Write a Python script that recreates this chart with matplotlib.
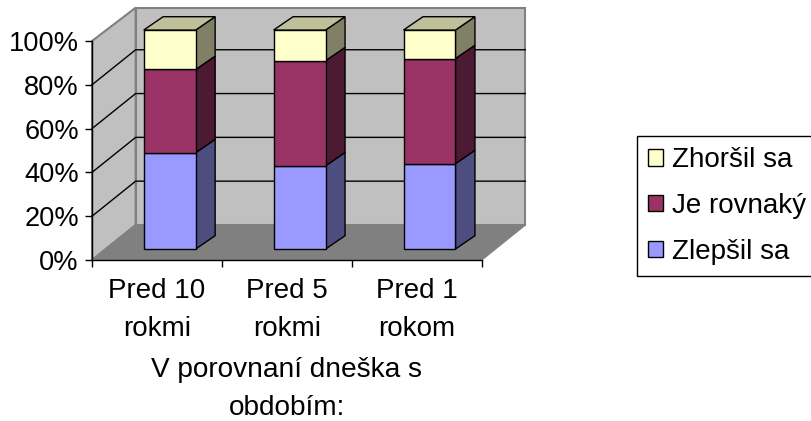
import matplotlib
matplotlib.use("Agg")
import matplotlib.pyplot as plt
from matplotlib.patches import Polygon, Patch

plt.rcParams['font.family'] = ['Liberation Sans', 'DejaVu Sans']

categories = ['Pred 10\nrokmi', 'Pred 5\nrokmi', 'Pred 1\nrokom']
zlepsil = [44, 38, 39]
rovnaky = [38, 48, 48]
zhorsil = [18, 14, 13]
series_names = ['Zlepšil sa', 'Je rovnaký', 'Zhoršil sa']
y_ticks = [0, 20, 40, 60, 80, 100]

# front, side, top colours
front_colors = ['#9999FF', '#993366', '#FFFFCC']
side_colors = ['#4D4D80', '#4D1A33', '#808066']
top_color = '#BFBF99'

# depth of the box and of the bars, in data units
wall_dx, wall_dy = 0.336, 16.0
wall_top = 115.2
bar_dx, bar_dy = 0.15, 6.1
bar_off_x, bar_off_y = 0.098, 5.0
bar_w = 0.40

fig = plt.figure(figsize=(8.12, 4.21), dpi=100)
ax = fig.add_axes([92 / 812, 1 - 260 / 421, (481.7 - 92) / 812, 219 / 421])
ax.set_xlim(0, 3)
ax.set_ylim(0, 100)
ax.patch.set_visible(False)


def poly(pts, fc, ec='black', lw=1.0, z=2):
    ax.add_patch(Polygon(pts, closed=True, facecolor=fc, edgecolor=ec, linewidth=lw,
                         zorder=z, clip_on=False, joinstyle='miter'))


# walls and floor
poly([(wall_dx, wall_dy), (3 + wall_dx, wall_dy), (3 + wall_dx, wall_top), (wall_dx, wall_top)],
     '#C0C0C0', '#808080', 1.5, 1)
poly([(0, 0), (wall_dx, wall_dy), (wall_dx, wall_top), (0, 100)], '#C0C0C0', '#808080', 1.5, 1)
poly([(0, 0), (3, 0), (3 + wall_dx, wall_dy), (wall_dx, wall_dy)], '#808080', '#808080', 1.0, 1)

# gridlines on the back and side walls
for t in y_ticks[1:-1]:
    ax.plot([0, wall_dx, 3 + wall_dx], [t, t + wall_dy, t + wall_dy], color='black', lw=1.0,
            zorder=1.5, clip_on=False)

# stacked bars with their side and top faces
for i in range(len(categories)):
    left = i + 0.5 - bar_w / 2 + bar_off_x
    right = left + bar_w
    base = bar_off_y
    for vals, fc, sc in zip([zlepsil, rovnaky, zhorsil], front_colors, side_colors):
        h = vals[i]
        poly([(right, base), (right + bar_dx, base + bar_dy), (right + bar_dx, base + h + bar_dy), (right, base + h)], sc)
        poly([(left, base), (right, base), (right, base + h), (left, base + h)], fc)
        base += h
    poly([(left, base), (right, base), (right + bar_dx, base + bar_dy), (left + bar_dx, base + bar_dy)], top_color)

for s in ['top', 'right']:
    ax.spines[s].set_visible(False)
for s in ['left', 'bottom']:
    ax.spines[s].set_linewidth(1.0)
    ax.spines[s].set_zorder(3)

ax.set_yticks(y_ticks)
ax.set_yticklabels([f'{t}%' for t in y_ticks], fontsize=19.6)
ax.set_xticks([0, 1, 2, 3])
ax.set_xticklabels([])
ax.set_xticks([0.5, 1.5, 2.5], labels=categories, minor=True, fontsize=20, linespacing=1.6)
ax.tick_params(axis='x', which='major', length=5, width=1.0, color='black')
ax.tick_params(axis='x', which='minor', length=0, pad=13)
ax.tick_params(axis='y', length=5, width=1.0, pad=4.5)
ax.set_xlabel('V porovnaní dneška s\nobdobím:', fontsize=20.2, linespacing=1.6, labelpad=10.5)

handles = [Patch(facecolor=c, edgecolor='black', label=n) for c, n in zip(front_colors, series_names)]
leg = fig.legend(handles=handles[::-1], loc='center left', bbox_to_anchor=(637 / 812, 1 - 206 / 421),
                 fontsize=20, frameon=True, fancybox=False, edgecolor='black', framealpha=1,
                 handlelength=0.54, handleheight=0.54, handletextpad=0.32, labelspacing=0.71,
                 borderpad=0.39, borderaxespad=0)
leg.get_frame().set_linewidth(1.0)

fig.savefig('out.png', dpi=100)
